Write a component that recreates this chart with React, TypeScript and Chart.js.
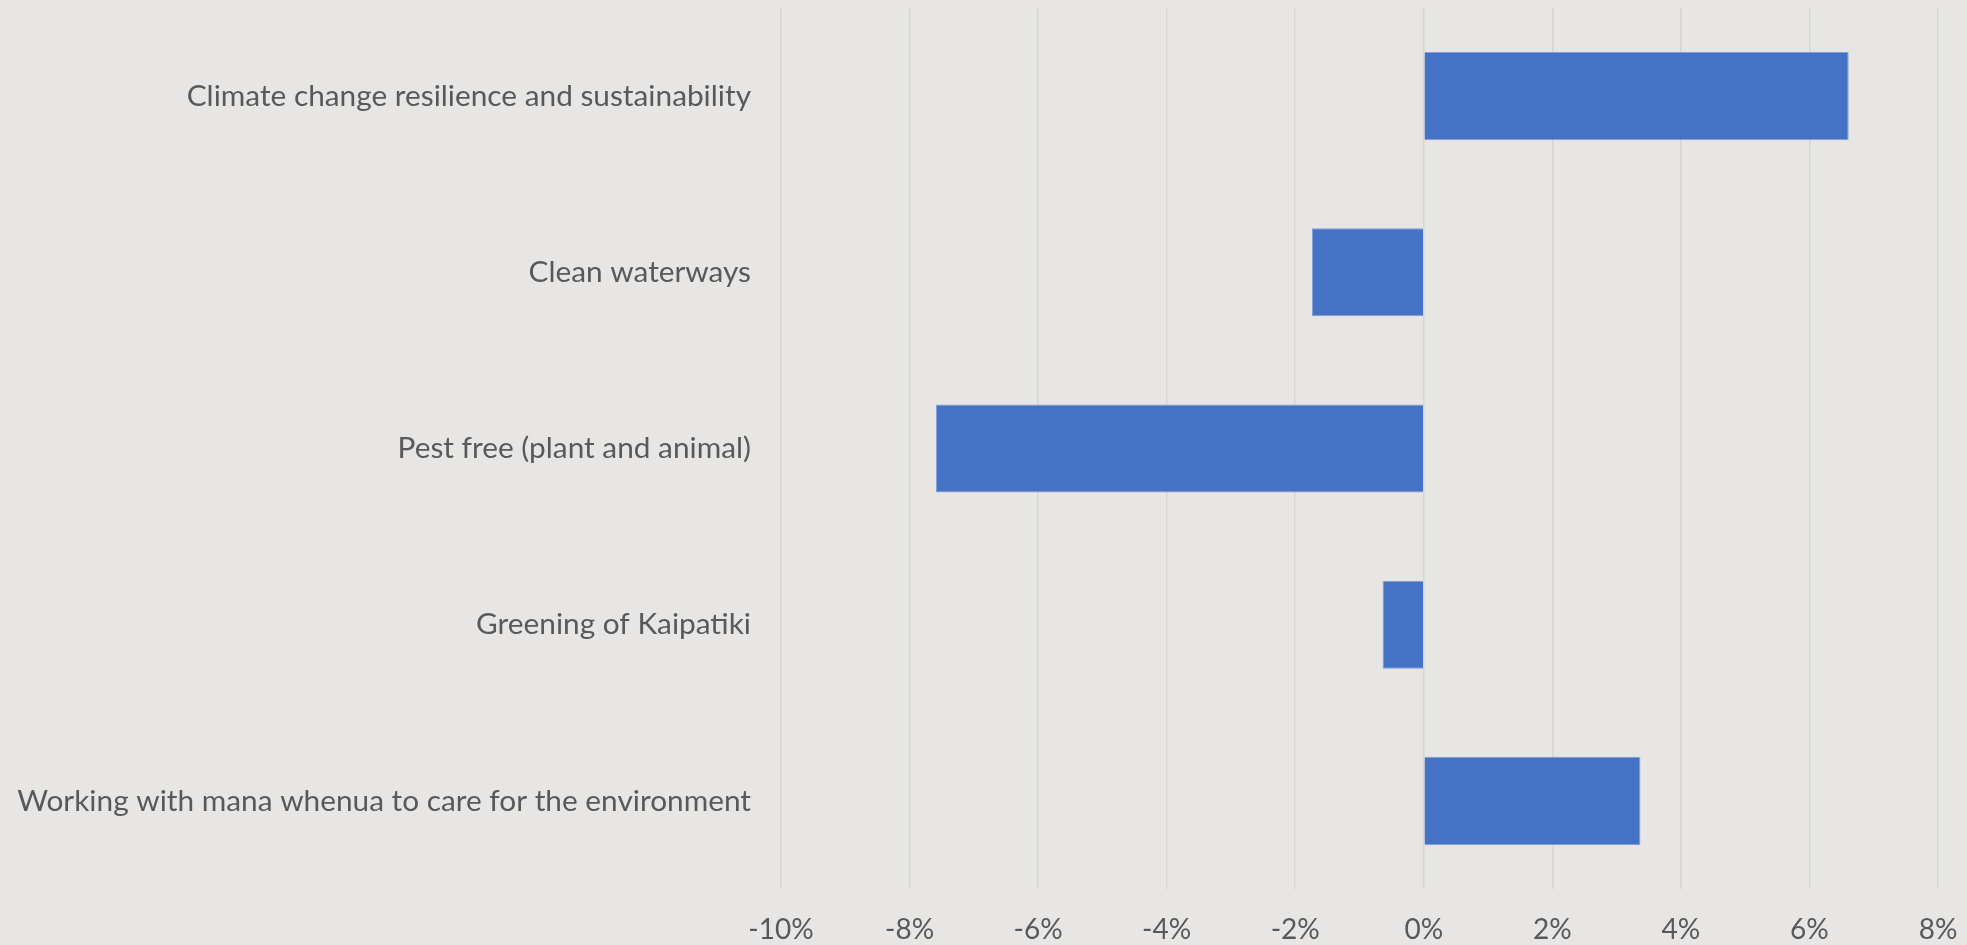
import React, { useEffect, useRef } from "react";
import { Chart, registerables } from "chart.js";

Chart.register(...registerables);

const categories = [
  "Climate change resilience and sustainability",
  "Clean waterways",
  "Pest free (plant and animal)",
  "Greening of Kaipatiki",
  "Working with mana whenua to care for the environment",
];
const values = [6.61, -1.74, -7.59, -0.64, 3.37];
const xMin = -10;
const xMax = 8;
const xStep = 2;

const W = 1967;
const H = 945;
const FONT = "Lato, 'Open Sans', sans-serif";

export default function App() {
  const ref = useRef<HTMLCanvasElement | null>(null);
  useEffect(() => {
    const canvas = ref.current;
    if (!canvas) return;
    const chart = new Chart(canvas, {
      type: "bar",
      data: {
        labels: categories,
        datasets: [
          {
            data: values,
            backgroundColor: "#4472C4",
            borderColor: "#7f9fd6",
            borderWidth: 1,
            barPercentage: 0.5,
            categoryPercentage: 1,
          },
        ],
      },
      options: {
        indexAxis: "y",
        responsive: false,
        animation: false,
        layout: { padding: { top: 8, right: 29, left: 0, bottom: 0 } },
        plugins: { legend: { display: false }, tooltip: { enabled: false } },
        scales: {
          x: {
            min: xMin,
            max: xMax,
            ticks: {
              stepSize: xStep,
              color: "#595959",
              font: { family: FONT, size: 28 },
              padding: 24,
              callback: (v: any) => `${v}%`,
            },
            grid: { color: "#d6d5d3", lineWidth: 1.5, drawTicks: false },
            border: { display: false },
            afterFit: (s: any) => {
              s.height = 56;
              s.paddingLeft = 0;
              s.paddingRight = 0;
            },
          },
          y: {
            ticks: {
              color: "#595959",
              font: { family: FONT, size: 29.8 },
              padding: 30,
              autoSkip: false,
            },
            grid: { display: false, drawTicks: false },
            border: { display: false },
            afterFit: (s: any) => {
              s.width = 781;
              s.paddingTop = 0;
              s.paddingBottom = 0;
            },
          },
        },
      },
    });
    return () => chart.destroy();
  }, []);
  return (
    <div
      style={{
        position: "fixed",
        left: 0,
        top: 0,
        width: W,
        height: H,
        background: "#E7E6E4",
      }}
    >
      <canvas ref={ref} width={W} height={H} style={{ width: W, height: H }} />
    </div>
  );
}
